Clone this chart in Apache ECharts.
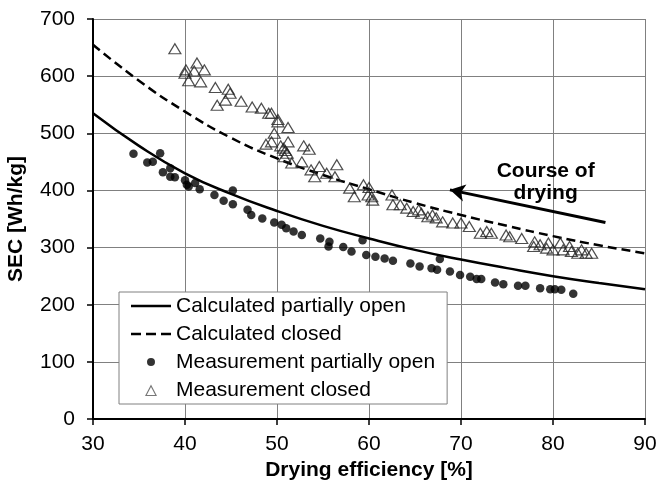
<!DOCTYPE html>
<html><head><meta charset="utf-8">
<script src="https://cdn.jsdelivr.net/npm/echarts@6/dist/echarts.min.js"></script>
<style>html,body{margin:0;padding:0;background:#fff}#c{width:657px;height:484px}</style>
</head><body><div id="c"></div>
<script>
var calcX = [30,35,40,45,50,55,60,65,70,75,80,85,90];
var calcOpen = [535,478,430,394,364,338,316,296,279,264,250,238,227];
var calcClosed = [655,592,538,492,456,427,402,378,357,338,320,304,290];

var measOpenX = [34.4,35.9,36.5,37.3,37.6,38.4,38.4,38.9,40.0,40.2,40.4,41.1,41.6,43.2,44.2,45.2,45.2,46.8,47.2,48.4,49.7,50.5,51.0,51.8,52.7,54.7,55.7,55.6,57.2,58.1,59.3,59.7,60.7,61.7,62.6,64.5,65.5,66.8,67.4,67.7,68.8,69.9,71.0,71.7,72.2,73.7,74.6,76.2,77.0,78.6,79.7,80.2,80.9,82.2];
var measOpenY = [464,449,450,465,432,439,424,423,418,410,407,413,402,392,382,376,400,366,357,351,344,340,334,328,322,316,310,302,301,293,313,287,284,281,277,272,267,264,261,280,258,252,249,245,245,239,236,233,233,229,227,227,226,219];

var measClosedX = [38.9,40.1,40.0,41.3,41.0,42.1,40.4,41.7,43.3,44.7,44.9,43.5,44.4,46.1,47.3,48.3,49.1,49.4,50.1,50.1,51.2,49.7,49.4,48.8,51.2,50.7,51.1,50.8,51.6,52.9,53.5,52.7,53.7,54.1,54.6,55.4,56.5,56.3,57.9,58.4,59.4,59.9,60.3,60.4,62.5,62.6,63.4,64.1,64.8,65.4,65.7,66.4,68.0,69.1,70.0,70.9,72.1,72.8,73.3,74.9,75.3,76.6,78.0,77.9,78.6,79.5,79.3,80.0,80.8,81.1,81.8,82.0,82.7,83.1,83.6,84.2,60.0,50.4,50.9,66.9,67.3];
var measClosedY = [648,611,605,623,609,611,592,590,580,577,570,549,558,556,546,544,535,535,524,520,510,500,485,481,485,474,465,459,448,478,472,450,436,424,442,430,445,424,404,389,410,392,389,383,392,375,375,369,363,366,360,354,345,343,343,337,325,328,325,322,319,316,310,302,305,308,299,296,308,296,302,293,290,296,290,290,405,478,470,357,352];

var xTicks = [30,40,50,60,70,80,90];
var yTicks = [0,100,200,300,400,500,600,700];
var seriesNames = ['Calculated partially open','Calculated closed','Measurement partially open','Measurement closed'];
var arrowFrom = [85.7,344];
var arrowTo = [68.8,401];
var noteAt = [79.2,415];
var noteText = 'Course of\ndrying';

function zip(a,b){return a.map(function(v,i){return [v,b[i]];});}

// legend icon paths inside a fixed 40x12 frame (tiny corner marks fix the box)
var FRAME = 'M0,0 L0.01,0 L0.01,0.01 Z M40,12 L39.99,12 L39.99,11.99 Z ';
var ICON_SOLID = 'path://' + FRAME + 'M0,4.75 L40,4.75 L40,7.25 L0,7.25 Z';
var ICON_DASH = 'path://' + FRAME + 'M0,4.75 L10,4.75 L10,7.25 L0,7.25 Z M15,4.75 L25,4.75 L25,7.25 L15,7.25 Z M30,4.75 L40,4.75 L40,7.25 L30,7.25 Z';
var ICON_DOT = 'path://' + FRAME + 'M16,6 A4,4 0 1,0 24,6 A4,4 0 1,0 16,6 Z';
var ICON_TRI = 'path://' + FRAME + 'M14,12 L26,12 L20,0.5 Z M15.8,11 L20,2.9 L24.2,11 Z';

var chart = echarts.init(document.getElementById('c'));
var FONT = '"Liberation Sans", Arial, sans-serif';
chart.setOption({
  animation:false,
  textStyle:{fontFamily:FONT},
  grid:{left:93,right:12,top:19,bottom:65,show:false,containLabel:false,outerBoundsMode:'none'},
  xAxis:{type:'value',min:30,max:90,interval:10,
    name:'Drying efficiency [%]',nameLocation:'middle',nameGap:41,
    nameTextStyle:{fontFamily:FONT,fontSize:21,fontWeight:'bold',color:'#000'},
    axisLine:{onZero:false,lineStyle:{color:'#000',width:2}},
    axisTick:{show:true,length:6,lineStyle:{color:'#000',width:1.5}},
    axisLabel:{margin:15,fontSize:21,color:'#000',fontFamily:FONT},
    splitLine:{show:true,lineStyle:{color:'#808080',width:1}}},
  yAxis:{type:'value',min:0,max:700,interval:100,
    name:'SEC [Wh/kg]',nameLocation:'middle',nameGap:66,
    nameTextStyle:{fontFamily:FONT,fontSize:21,fontWeight:'bold',color:'#000'},
    axisLine:{show:true,onZero:false,lineStyle:{color:'#000',width:2}},
    axisTick:{show:true,length:6,lineStyle:{color:'#000',width:1.5}},
    axisLabel:{margin:18,fontSize:21,color:'#000',fontFamily:FONT},
    splitLine:{show:true,lineStyle:{color:'#808080',width:1}}},
  legend:{orient:'vertical',left:119,top:292,
    backgroundColor:'#fff',borderColor:'#808080',borderWidth:1,
    padding:[3,12,3,12],itemGap:6,itemWidth:40,itemHeight:12,
    textStyle:{fontSize:21,color:'#000',fontFamily:FONT,lineHeight:22},
    data:[
      {name:seriesNames[0],icon:ICON_SOLID,itemStyle:{color:'#000',borderWidth:0}},
      {name:seriesNames[1],icon:ICON_DASH,itemStyle:{color:'#000',borderWidth:0}},
      {name:seriesNames[2],icon:ICON_DOT,itemStyle:{color:'#000',borderWidth:0}},
      {name:seriesNames[3],icon:ICON_TRI,itemStyle:{color:'#555',borderWidth:0}}
    ]},
  series:[
    {name:seriesNames[0],type:'line',data:zip(calcX,calcOpen),smooth:true,symbol:'none',
      lineStyle:{color:'#000',width:2.5},itemStyle:{color:'#000'},z:3},
    {name:seriesNames[1],type:'line',data:zip(calcX,calcClosed),smooth:true,symbol:'none',
      lineStyle:{color:'#000',width:2.5,type:[9,5]},itemStyle:{color:'#000'},z:3,
      markLine:{silent:true,symbol:['none','arrow'],symbolSize:[13,15],
        lineStyle:{color:'#000',width:3,type:'solid'},label:{show:false},
        data:[[{coord:arrowFrom},{coord:arrowTo}]]},
      markPoint:{silent:true,symbol:'circle',symbolSize:0,
        label:{show:true,position:'inside',formatter:noteText,fontSize:21,fontWeight:'bold',color:'#000',lineHeight:22,fontFamily:FONT},
        data:[{coord:noteAt}]}},
    {name:seriesNames[2],type:'scatter',data:zip(measOpenX,measOpenY),symbol:'circle',symbolSize:8.5,
      itemStyle:{color:'#000'},z:4},
    {name:seriesNames[3],type:'scatter',data:zip(measClosedX,measClosedY),symbol:'triangle',symbolSize:[12,10],
      itemStyle:{color:'rgba(255,255,255,0)',borderColor:'#222',borderWidth:1.2},z:4}
  ]
});
</script></body></html>
